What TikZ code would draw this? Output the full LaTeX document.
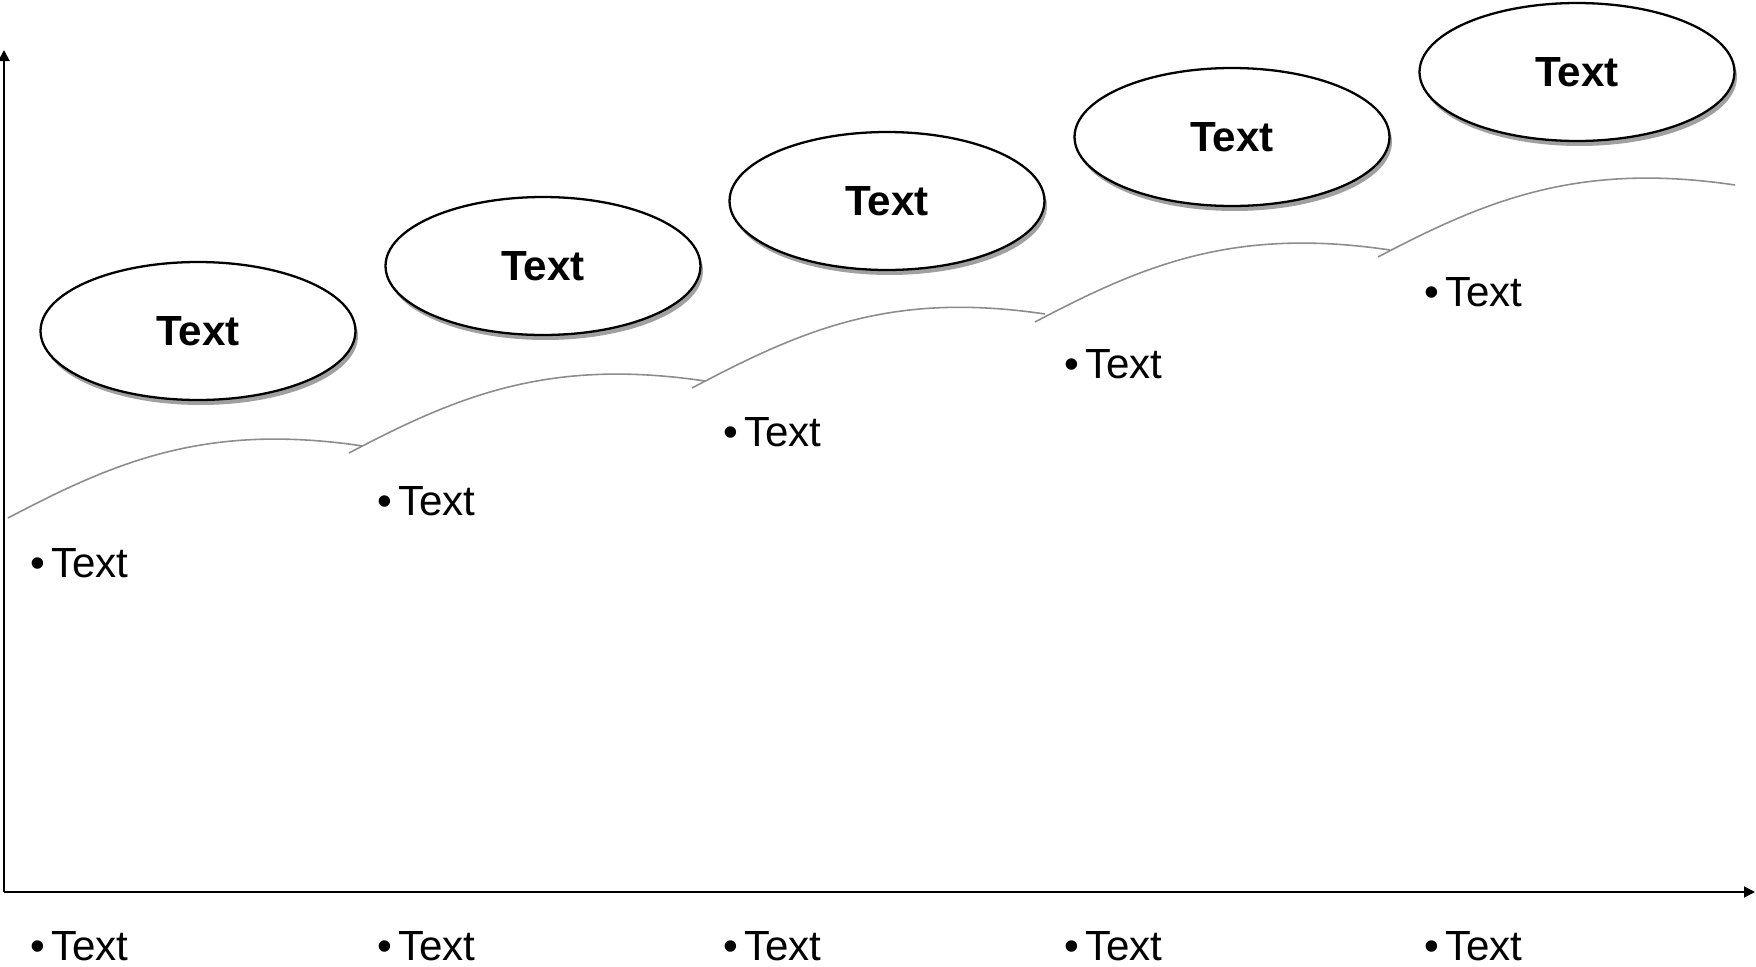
\documentclass[tikz,border=0pt]{standalone}
\usepackage{fontspec}
\setmainfont{Liberation Sans}
\usetikzlibrary{shapes.geometric,arrows.meta,shadows}

\begin{document}
\begin{tikzpicture}[
    x=0.02cm, y=-0.02cm,
    oval/.style={ellipse, draw=black, fill=white, line width=1.3pt, minimum width=6.3cm, minimum height=2.76cm, font=\fontsize{24}{28}\selectfont\bfseries, drop shadow={shadow xshift=0.05cm, shadow yshift=-0.1cm, opacity=0.75}},
    item/.style={anchor=base west, inner sep=0pt, font=\fontsize{24}{28}\selectfont},
    axis/.style={-{Triangle[length=0.22cm, width=0.22cm]}, line width=1.1pt},
    hill/.style={draw=gray!90, line width=0.9pt}
]
\useasboundingbox (0,0) rectangle (1756,967);

% axes
\coordinate (origin) at (4,892);
\coordinate (ytip) at (4,50);
\coordinate (xtip) at (1755,892);
\draw[axis] (origin) -- (ytip);
\draw[axis] (origin) -- (xtip);

% rising hills
\draw[hill] (8,518) .. controls +(110,-58) and +(-155,-23) .. (363,446);
\draw[hill] (349,453) .. controls +(110,-58) and +(-155,-23) .. (705,381);
\draw[hill] (692,388) .. controls +(110,-58) and +(-155,-23) .. (1045,314);
\draw[hill] (1035,322) .. controls +(110,-58) and +(-155,-23) .. (1390,250);
\draw[hill] (1378,257) .. controls +(110,-58) and +(-155,-23) .. (1735,185);

% ovals
\node[oval] (oval1) at (198,331) {Text};
\node[oval] (oval2) at (543,266) {Text};
\node[oval] (oval3) at (887,201) {Text};
\node[oval] (oval4) at (1232,137) {Text};
\node[oval] (oval5) at (1577,72) {Text};

% bullets under the hills
\node[item] (top1) at (30,577) {•\hspace{0.12cm}Text};
\node[item] (top2) at (377,515) {•\hspace{0.12cm}Text};
\node[item] (top3) at (723,446) {•\hspace{0.12cm}Text};
\node[item] (top4) at (1064,378) {•\hspace{0.12cm}Text};
\node[item] (top5) at (1424,306) {•\hspace{0.12cm}Text};

% bullets under the axis
\node[item] (bot1) at (30,960) {•\hspace{0.12cm}Text};
\node[item] (bot2) at (377,960) {•\hspace{0.12cm}Text};
\node[item] (bot3) at (723,960) {•\hspace{0.12cm}Text};
\node[item] (bot4) at (1064,960) {•\hspace{0.12cm}Text};
\node[item] (bot5) at (1424,960) {•\hspace{0.12cm}Text};

\end{tikzpicture}
\end{document}
